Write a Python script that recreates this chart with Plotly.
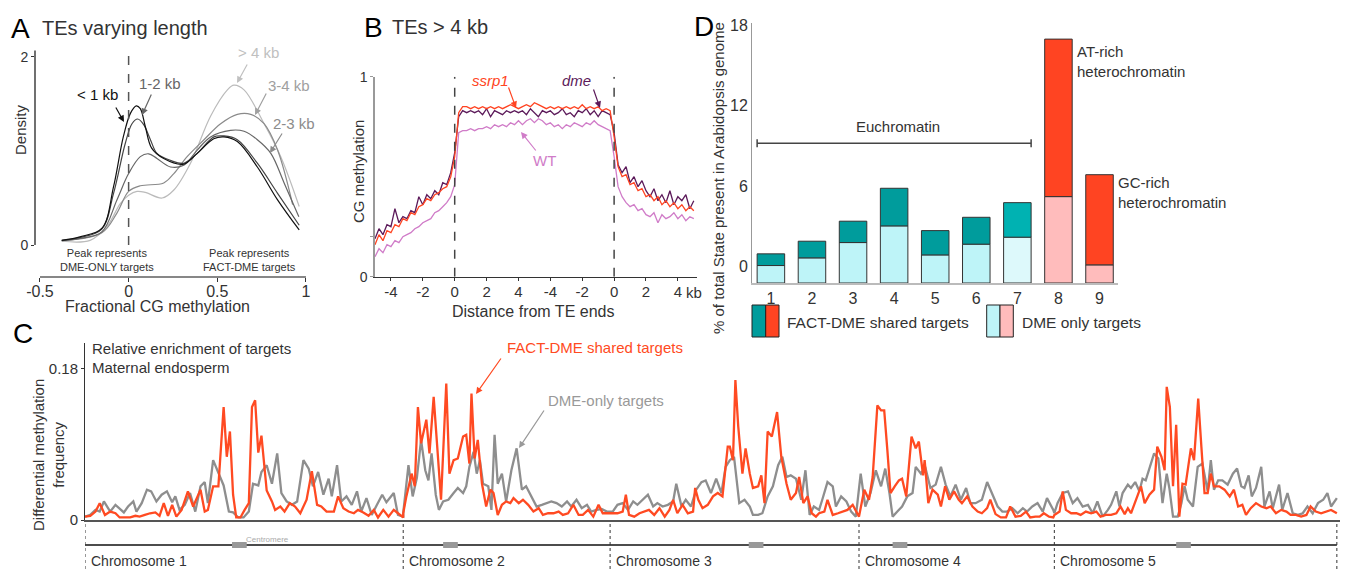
import numpy as np
import plotly.graph_objects as go

W, H = 1345, 570
def P(x): return x / W
def Q(y): return 1 - y / H

FONT = "Liberation Sans, Arial, Helvetica, sans-serif"
TXT = "#333333"

# ---------------- Panel A: density of fractional CG methylation ----------------
a_lt1_x = [-0.377, -0.27, -0.15, -0.085, -0.03, 0.01, 0.043, 0.066, 0.094, 0.13, 0.198, 0.31, 0.387, 0.48, 0.538, 0.613, 0.726, 0.84, 0.962]
a_lt1_y = [0.05, 0.09, 0.18, 0.62, 1.15, 1.40, 1.48, 1.45, 1.26, 1.03, 0.92, 0.86, 0.975, 1.13, 1.15, 1.10, 0.83, 0.48, 0.16]
a_1to2_x = [-0.377, -0.274, -0.151, -0.085, -0.019, 0.019, 0.051, 0.085, 0.123, 0.160, 0.236, 0.311, 0.387, 0.481, 0.538, 0.613, 0.726, 0.84, 0.962]
a_1to2_y = [0.05, 0.08, 0.17, 0.55, 1.08, 1.29, 1.34, 1.28, 1.12, 0.975, 0.90, 0.87, 0.975, 1.15, 1.16, 1.12, 0.87, 0.55, 0.21]
a_2to3_x = [-0.377, -0.274, -0.151, -0.066, 0.0, 0.066, 0.113, 0.160, 0.236, 0.311, 0.387, 0.462, 0.575, 0.651, 0.726, 0.802, 0.877, 0.96]
a_2to3_y = [0.046, 0.07, 0.14, 0.48, 0.76, 0.94, 0.97, 0.92, 0.83, 0.85, 1.01, 1.15, 1.22, 1.21, 1.12, 0.975, 0.66, 0.30]
a_3to4_x = [-0.377, -0.151, -0.066, 0.0, 0.066, 0.198, 0.255, 0.330, 0.425, 0.519, 0.613, 0.689, 0.764, 0.840, 0.925]
a_3to4_y = [0.046, 0.13, 0.34, 0.57, 0.63, 0.66, 0.76, 0.94, 1.12, 1.29, 1.39, 1.39, 1.29, 1.01, 0.43]
a_gt4_x = [-0.377, -0.217, -0.123, -0.047, 0.0, 0.047, 0.094, 0.189, 0.255, 0.349, 0.462, 0.557, 0.594, 0.651, 0.764, 0.858, 0.962]
a_gt4_y = [0.04, 0.05, 0.195, 0.44, 0.53, 0.57, 0.56, 0.50, 0.585, 0.87, 1.37, 1.65, 1.70, 1.65, 1.29, 0.94, 0.41]
a_ticks = [-0.5, 0, 0.5, 1]
a_ticktext = ["-0.5", "0", "0.5", "1"]

# ---------------- Panel B: CG methylation around TEs > 4 kb ----------------
b_step = 0.25          # sampling interval (kb-equivalent units), first sample at -5
b_dme = [0.19, 0.24, 0.21, 0.26, 0.25, 0.34, 0.27, 0.30, 0.29, 0.33, 0.32, 0.40, 0.36, 0.41, 0.39, 0.43, 0.41, 0.47, 0.46, 0.52,
         0.62, 0.80, 0.83, 0.82, 0.83, 0.82, 0.83, 0.81, 0.84, 0.80, 0.83, 0.82, 0.81, 0.83, 0.82, 0.83, 0.82, 0.83, 0.81, 0.84,
         0.82, 0.80, 0.83, 0.82, 0.83, 0.81, 0.82, 0.84, 0.81, 0.82, 0.80, 0.83, 0.82, 0.84, 0.81, 0.83, 0.80, 0.83, 0.82, 0.81,
         0.72, 0.56, 0.52, 0.55, 0.47, 0.50, 0.45, 0.48, 0.43, 0.40, 0.44, 0.38, 0.41, 0.37, 0.43, 0.36, 0.40, 0.38, 0.41, 0.34, 0.38]
b_ssrp1 = [0.16, 0.21, 0.18, 0.23, 0.22, 0.26, 0.25, 0.29, 0.28, 0.32, 0.31, 0.35, 0.36, 0.39, 0.38, 0.41, 0.42, 0.44, 0.45, 0.50,
           0.60, 0.82, 0.85, 0.85, 0.84, 0.85, 0.84, 0.85, 0.84, 0.85, 0.84, 0.85, 0.84, 0.85, 0.86, 0.85, 0.84, 0.85, 0.86, 0.85,
           0.87, 0.86, 0.85, 0.84, 0.85, 0.84, 0.85, 0.84, 0.85, 0.84, 0.85, 0.84, 0.86, 0.84, 0.85, 0.84, 0.85, 0.83, 0.84, 0.83,
           0.70, 0.55, 0.50, 0.51, 0.46, 0.47, 0.43, 0.44, 0.40, 0.41, 0.38, 0.40, 0.36, 0.38, 0.35, 0.37, 0.34, 0.36, 0.33, 0.35, 0.33]
b_wt = [0.10, 0.14, 0.12, 0.16, 0.15, 0.18, 0.17, 0.20, 0.21, 0.22, 0.24, 0.25, 0.27, 0.28, 0.29, 0.32, 0.33, 0.35, 0.37, 0.40,
        0.46, 0.72, 0.73, 0.73, 0.74, 0.73, 0.74, 0.74, 0.75, 0.74, 0.76, 0.75, 0.76, 0.75, 0.77, 0.76, 0.78, 0.76, 0.78, 0.79,
        0.77, 0.79, 0.78, 0.76, 0.77, 0.75, 0.76, 0.74, 0.76, 0.75, 0.77, 0.76, 0.75, 0.77, 0.76, 0.78, 0.76, 0.75, 0.74, 0.73,
        0.60, 0.45, 0.40, 0.37, 0.35, 0.36, 0.33, 0.34, 0.31, 0.30, 0.32, 0.27, 0.31, 0.29, 0.30, 0.32, 0.29, 0.31, 0.28, 0.30, 0.29]
b_tickvals = [-4, -2, 0, 2, 4, 6, 8, 10, 12, 14]
b_ticktext = ["-4", "-2", "0", "2", "4", "-4", "-2", "0", "2", "4"]
b_te_ends = [0, 10]

# ---------------- Panel C: differential methylation along chromosomes ----------------
chr_names = ["Chromosome 1", "Chromosome 2", "Chromosome 3", "Chromosome 4", "Chromosome 5"]
chr_len_mb = [30.3, 19.7, 23.7, 18.6, 26.9]
centromere_mb = [14.7, 4.5, 13.9, 3.9, 12.3]
# (position in Mb, frequency in %) pairs
chr1_dme = [(0.0, 0.4), (0.5, 0.6), (1.0, 1.2), (1.4, 1.0), (1.8, 2.2), (2.4, 1.0), (2.9, 1.8), (3.3, 1.4), (3.7, 0.9), (4.1, 1.6),
            (4.6, 2.2), (4.9, 1.0), (5.4, 2.0), (5.9, 3.6), (6.3, 3.4), (6.8, 2.2), (7.3, 3.0), (7.8, 3.4), (8.3, 2.1), (8.6, 2.8),
            (9.0, 1.2), (9.5, 1.8), (10.0, 3.2), (10.5, 1.0), (11.0, 4.0), (11.4, 4.5), (11.7, 2.0), (12.2, 7.1), (12.7, 5.5), (13.2, 4.1),
            (13.7, 1.0), (14.1, 0.9), (14.6, 0.3), (15.1, 0.3), (15.6, 1.0), (16.0, 4.3), (16.5, 4.1), (16.8, 5.7), (17.3, 6.5), (17.8, 4.3),
            (18.3, 7.9), (18.7, 3.2), (19.2, 2.2), (19.7, 1.8), (20.2, 2.2), (20.8, 7.1), (21.3, 6.1), (21.7, 4.0), (22.2, 5.7), (22.7, 3.0),
            (23.2, 4.9), (23.5, 2.8), (24.0, 6.5), (24.4, 2.2), (24.9, 2.8), (25.4, 1.8), (25.9, 3.4), (26.3, 1.0), (26.8, 2.6), (27.3, 0.6),
            (27.8, 1.8), (28.3, 3.0), (28.7, 2.1), (29.4, 3.2), (29.8, 0.6), (30.3, 0.4)]
chr1_fact = [(0.0, 0.4), (0.5, 0.5), (1.0, 1.0), (1.4, 2.0), (1.9, 0.6), (2.4, 1.0), (2.9, 0.8), (3.3, 0.3), (3.8, 0.3), (4.3, 0.3),
             (4.8, 0.5), (5.2, 0.4), (5.7, 0.6), (6.2, 0.8), (6.7, 0.9), (7.1, 0.5), (7.5, 2.0), (7.9, 0.5), (8.3, 1.8), (8.7, 0.4),
             (9.2, 1.2), (9.8, 3.4), (10.3, 1.6), (11.0, 3.6), (11.4, 1.0), (11.7, 1.2), (12.2, 4.0), (12.7, 4.0), (13.2, 13.4), (13.5, 7.5),
             (13.8, 10.5), (14.1, 3.0), (14.4, 0.3), (14.8, 0.3), (15.2, 1.2), (15.6, 2.0), (15.9, 13.4), (16.2, 14.2), (16.5, 8.0), (16.8, 10.0),
             (17.3, 3.5), (17.8, 2.2), (18.1, 1.2), (18.6, 1.6), (19.0, 1.0), (19.5, 2.0), (20.0, 1.6), (20.5, 0.8), (21.1, 2.4), (21.6, 5.8),
             (22.1, 1.8), (22.5, 1.6), (23.0, 1.0), (23.7, 1.0), (24.1, 2.8), (24.6, 1.4), (25.1, 1.0), (25.6, 0.8), (26.0, 1.2), (26.5, 0.9),
             (27.0, 0.5), (27.5, 1.2), (27.9, 0.3), (28.4, 1.2), (28.9, 0.4), (29.4, 1.2), (29.8, 0.8), (30.3, 0.3)]
chr2_dme = [(0.0, 0.8), (0.5, 6.5), (0.9, 2.8), (1.3, 5.0), (1.7, 9.5), (2.1, 5.9), (2.4, 4.7), (2.7, 7.9), (3.1, 3.0), (3.4, 1.2),
            (3.8, 2.2), (4.3, 2.4), (4.8, 3.2), (5.2, 3.8), (5.7, 3.2), (6.0, 4.0), (6.3, 6.3), (6.7, 8.1), (7.0, 5.5), (7.3, 7.1),
            (7.6, 4.3), (8.1, 4.0), (8.4, 1.2), (8.7, 10.1), (9.0, 4.3), (9.4, 5.5), (9.8, 2.2), (10.3, 5.9), (10.8, 8.5), (11.3, 3.6),
            (11.7, 4.0), (12.2, 2.8), (12.7, 1.6), (13.2, 1.8), (13.7, 2.0), (14.1, 2.2), (14.6, 2.0), (15.1, 1.6), (15.6, 2.2), (16.0, 1.6),
            (16.5, 2.4), (17.0, 1.4), (17.5, 1.8), (17.9, 1.0), (18.4, 1.2), (18.9, 1.3), (19.4, 1.0), (19.7, 1.0)]
chr2_fact = [(0.0, 0.8), (0.3, 2.8), (0.8, 5.5), (1.1, 4.0), (1.4, 13.4), (1.7, 9.1), (2.2, 11.9), (2.5, 7.9), (2.9, 14.6), (3.3, 7.1),
             (3.6, 2.4), (4.1, 16.2), (4.4, 5.5), (4.8, 7.1), (5.2, 7.3), (5.7, 9.9), (6.0, 10.1), (6.3, 6.7), (6.5, 15.0), (6.8, 7.3),
             (7.1, 9.5), (7.5, 4.3), (7.9, 1.6), (8.3, 3.6), (8.6, 3.2), (9.0, 0.6), (9.4, 1.8), (9.8, 2.2), (10.2, 2.0), (10.5, 2.6),
             (11.0, 2.0), (11.4, 2.4), (11.9, 1.8), (12.4, 1.0), (12.9, 1.4), (13.3, 0.6), (13.8, 0.8), (14.3, 0.8), (14.8, 1.0), (15.2, 0.6),
             (15.7, 0.8), (16.2, 1.8), (16.7, 0.6), (17.1, 0.6), (17.6, 1.2), (18.1, 0.4), (18.6, 1.8), (19.0, 0.8)]
chr3_dme = [(0.25, 1.0), (0.7, 1.8), (1.2, 2.0), (1.7, 1.2), (2.2, 2.2), (2.6, 1.8), (3.1, 2.4), (3.6, 3.0), (4.1, 1.6), (4.5, 2.0),
            (5.0, 1.6), (5.5, 1.8), (6.0, 2.2), (6.3, 4.3), (6.8, 1.6), (7.2, 2.4), (7.7, 1.6), (8.2, 3.6), (8.7, 4.5), (9.1, 4.7),
            (9.6, 3.2), (10.1, 4.9), (10.6, 3.2), (11.0, 6.3), (11.4, 7.1), (11.8, 7.5), (12.3, 2.0), (12.8, 2.4), (13.3, 1.6), (13.6, 0.6),
            (14.1, 0.6), (14.5, 0.8), (15.0, 2.8), (15.5, 4.0), (16.0, 6.5), (16.4, 7.5), (16.8, 5.1), (17.2, 5.3), (17.7, 4.9), (18.2, 2.4),
            (18.6, 5.9), (19.0, 0.6), (19.4, 1.6), (19.9, 1.2), (20.2, 2.4), (20.7, 4.5), (21.2, 4.0), (21.5, 1.6), (22.0, 2.8), (22.5, 2.2),
            (22.95, 1.0), (23.4, 0.4)]
chr3_fact = [(0.25, 0.8), (0.7, 0.8), (1.2, 1.0), (1.5, 3.0), (1.8, 0.6), (2.3, 0.4), (2.8, 0.8), (3.3, 1.0), (3.7, 1.2), (4.2, 0.6),
             (4.7, 1.4), (5.2, 0.4), (5.65, 1.2), (6.0, 2.4), (6.4, 0.8), (6.9, 1.8), (7.4, 0.8), (7.9, 1.0), (8.1, 3.8), (8.4, 2.4),
             (8.8, 1.4), (9.3, 1.8), (9.8, 2.8), (10.25, 3.2), (10.7, 2.8), (11.2, 8.7), (11.4, 8.7), (11.7, 7.1), (11.93, 16.6), (12.2, 11.1),
             (12.6, 5.5), (12.9, 8.5), (13.3, 5.5), (13.6, 3.8), (14.1, 4.0), (14.4, 5.3), (14.7, 2.0), (15.0, 10.5), (15.4, 9.9), (15.9, 12.8),
             (16.3, 7.5), (16.8, 4.3), (17.2, 2.4), (17.7, 3.2), (18.0, 5.1), (18.4, 2.0), (18.8, 2.8), (19.2, 0.8), (19.6, 0.4), (19.9, 0.8),
             (20.4, 1.0), (20.7, 2.4), (21.2, 0.6), (21.7, 0.8), (22.2, 1.0), (22.6, 1.2), (23.1, 1.8), (23.4, 1.0), (23.67, 0.4)]
chr4_dme = [(0.16, 5.5), (0.6, 1.6), (1.1, 3.2), (1.6, 5.9), (2.1, 4.0), (2.5, 6.1), (2.9, 3.2), (3.2, 0.4), (3.65, 1.0), (4.1, 1.6),
            (4.6, 2.8), (5.1, 3.2), (5.4, 6.3), (5.9, 5.5), (6.3, 6.3), (6.8, 3.8), (7.3, 4.2), (7.8, 6.3), (8.25, 4.2), (8.7, 2.8),
            (9.2, 4.2), (9.7, 2.4), (10.2, 3.8), (10.6, 2.0), (11.1, 2.0), (11.7, 2.4), (12.2, 4.5), (12.7, 3.0), (13.2, 1.6), (13.65, 1.0),
            (14.1, 1.0), (14.6, 1.4), (15.1, 0.8), (15.6, 1.4), (16.0, 1.0), (16.5, 1.6), (17.0, 2.0), (17.5, 1.0), (17.9, 2.6), (18.5, 1.2)]
chr4_fact = [(0.0, 0.4), (0.5, 3.6), (0.95, 2.4), (1.3, 5.1), (1.75, 13.6), (2.1, 13.0), (2.4, 13.0), (2.7, 8.3), (3.0, 3.2), (3.4, 4.0),
             (3.8, 4.7), (4.1, 4.9), (4.5, 2.8), (5.0, 9.9), (5.4, 8.5), (5.7, 9.3), (6.1, 5.3), (6.25, 7.1), (6.6, 2.0), (7.0, 3.6),
             (7.5, 3.0), (7.8, 1.6), (8.2, 4.0), (8.6, 2.4), (9.05, 3.4), (9.5, 2.4), (9.8, 2.0), (10.3, 2.8), (10.8, 1.6), (11.3, 1.0),
             (11.7, 0.8), (12.2, 1.4), (12.5, 2.4), (13.0, 0.7), (13.5, 0.3), (14.0, 0.3), (14.4, 1.6), (14.9, 0.4), (15.4, 0.5), (15.9, 1.0),
             (16.3, 0.3), (16.8, 0.4), (17.2, 0.4), (17.6, 0.8), (18.1, 0.4), (18.5, 0.3)]
chr5_dme = [(0.0, 0.8), (0.3, 2.0), (0.8, 3.2), (1.3, 3.4), (1.75, 2.0), (2.2, 2.6), (2.7, 1.6), (3.2, 1.8), (3.65, 0.8), (4.1, 2.2),
            (4.6, 0.4), (5.1, 1.2), (5.4, 1.8), (5.9, 3.4), (6.2, 1.6), (6.5, 3.2), (7.0, 4.2), (7.3, 3.8), (7.7, 4.5), (8.1, 3.4),
            (8.4, 4.9), (8.7, 4.7), (9.1, 6.3), (9.5, 7.9), (9.9, 7.3), (10.3, 2.0), (10.7, 5.5), (10.95, 3.8), (11.3, 0.4), (11.75, 0.4),
            (12.1, 2.0), (12.4, 4.0), (12.7, 2.4), (13.2, 1.6), (13.65, 6.3), (14.1, 6.7), (14.6, 3.4), (14.9, 7.1), (15.2, 3.6), (15.6, 4.7),
            (16.0, 4.7), (16.5, 4.2), (17.0, 5.5), (17.4, 6.1), (17.8, 4.0), (18.1, 3.8), (18.5, 5.3), (18.8, 2.8), (19.2, 3.8), (19.7, 6.3),
            (20.0, 1.6), (20.5, 3.4), (20.8, 1.4), (21.4, 4.2), (21.7, 1.2), (22.2, 3.2), (22.7, 0.8), (23.2, 0.6), (23.65, 0.8), (24.1, 1.6),
            (24.6, 0.8), (25.1, 2.0), (25.6, 2.4), (26.0, 3.2), (26.35, 1.6), (26.9, 2.6)]
chr5_fact = [(0.0, 0.6), (0.5, 1.0), (0.8, 3.4), (1.1, 1.2), (1.6, 0.8), (2.1, 0.8), (2.5, 0.6), (3.0, 1.0), (3.5, 0.8), (4.0, 1.0),
             (4.4, 0.4), (4.9, 0.6), (5.4, 0.6), (5.9, 0.8), (6.3, 1.6), (6.7, 0.7), (7.0, 1.4), (7.3, 0.8), (7.8, 2.4), (8.25, 4.0),
             (8.6, 2.0), (9.05, 3.0), (9.5, 3.6), (9.8, 8.7), (10.2, 7.5), (10.5, 5.9), (10.7, 15.8), (11.0, 13.4), (11.3, 4.0), (11.6, 11.3),
             (11.9, 0.4), (12.2, 4.3), (12.5, 4.2), (13.0, 8.5), (13.3, 7.1), (13.7, 14.4), (14.0, 8.7), (14.3, 3.2), (14.6, 3.2), (14.9, 5.5),
             (15.2, 4.0), (15.7, 4.0), (16.2, 3.6), (16.7, 2.8), (17.1, 3.6), (17.5, 1.6), (17.9, 1.8), (18.25, 0.6), (18.7, 1.4), (19.2, 2.0),
             (19.7, 1.6), (20.2, 1.4), (20.6, 1.6), (21.1, 0.8), (21.6, 1.2), (22.1, 1.0), (22.5, 0.6), (23.0, 0.6), (23.5, 0.4), (24.0, 0.6),
             (24.4, 1.6), (24.9, 1.0), (25.4, 0.8), (25.9, 1.0), (26.35, 1.2), (26.9, 0.8)]
c_dme_by_chr = [chr1_dme, chr2_dme, chr3_dme, chr4_dme, chr5_dme]
c_fact_by_chr = [chr1_fact, chr2_fact, chr3_fact, chr4_fact, chr5_fact]
c_ticks = [0, 0.18]

# ---------------- Panel D: chromatin states ----------------
d_states = [1, 2, 3, 4, 5, 6, 7, 8, 9]
d_dme_only_top = [0.10, 0.67, 1.81, 3.05, 0.89, 1.69, 2.21, 5.23, 0.15]
d_total_top = [0.97, 1.91, 3.40, 5.85, 2.70, 3.69, 4.78, 16.95, 6.86]
d_shared_colors = ["#009C9C"] * 6 + ["#00B2B2"] + ["#FF4422", "#FF4422"]
d_only_colors = ["#BEF4F8"] * 6 + ["#DDF9FB"] + ["#FFBCBC", "#FFBCBC"]
d_floor = -1.2
d_yticks = [0, 6, 12, 18]

fig = go.Figure()

# ---- A traces
a_curves = [(a_gt4_x, a_gt4_y, "#BBBBBB"), (a_3to4_x, a_3to4_y, "#8A8A8A"),
            (a_2to3_x, a_2to3_y, "#666666"), (a_1to2_x, a_1to2_y, "#444444"),
            (a_lt1_x, a_lt1_y, "#111111")]
for xs, ys, col in a_curves:
    fig.add_trace(go.Scatter(x=xs, y=ys, mode="lines", xaxis="x", yaxis="y",
                             line=dict(color=col, width=1.2, shape="spline", smoothing=1.0),
                             showlegend=False, hoverinfo="skip"))

# ---- B traces
b_x = -5 + b_step * np.arange(len(b_dme))
for ys, col in [(b_wt, "#D07CC8"), (b_dme, "#5C1A5A"), (b_ssrp1, "#FF4422")]:
    fig.add_trace(go.Scatter(x=b_x, y=ys, mode="lines", xaxis="x2", yaxis="y2",
                             line=dict(color=col, width=1.3), showlegend=False, hoverinfo="skip"))

# ---- C traces
chr_off = np.concatenate([[0], np.cumsum(chr_len_mb)])
def concat(series):
    xs, ys = [], []
    for off, pts in zip(chr_off, series):
        for p, v in pts:
            xs.append(off + p)
            ys.append(v / 100.0)
    return xs, ys
for series, col in [(c_dme_by_chr, "#8E8E8E"), (c_fact_by_chr, "#FF4A22")]:
    xs, ys = concat(series)
    fig.add_trace(go.Scatter(x=xs, y=ys, mode="lines", xaxis="x3", yaxis="y3",
                             line=dict(color=col, width=2.3), showlegend=False, hoverinfo="skip"))

# ---- D traces
d_only_h = [t - d_floor for t in d_dme_only_top]
d_shared_h = [t - b for t, b in zip(d_total_top, d_dme_only_top)]
fig.add_trace(go.Bar(x=d_states, y=d_only_h, base=[d_floor] * len(d_states), width=0.67,
                     marker=dict(color=d_only_colors, line=dict(color="#333333", width=1)),
                     xaxis="x4", yaxis="y4", showlegend=False, hoverinfo="skip"))
fig.add_trace(go.Bar(x=d_states, y=d_shared_h, base=d_dme_only_top, width=0.67,
                     marker=dict(color=d_shared_colors, line=dict(color="#333333", width=1)),
                     xaxis="x4", yaxis="y4", showlegend=False, hoverinfo="skip"))

# ---------------- axes ----------------
ax_common = dict(showgrid=False, zeroline=False, automargin=False)
layout = dict(
    width=W, height=H, autosize=False, margin=dict(l=0, r=0, t=0, b=0, pad=0, autoexpand=False),
    paper_bgcolor="white", plot_bgcolor="white", barmode="overlay", showlegend=False,
    font=dict(family=FONT, color=TXT, size=14),
    xaxis=dict(domain=[P(35), P(307)], range=[-0.528, 1.006], anchor="y", showline=False,
               tickvals=a_ticks, ticktext=a_ticktext, ticks="outside", ticklen=4, tickcolor="#333",
               ticklabelstandoff=-4, tickfont=dict(size=16, color=TXT), **ax_common),
    yaxis=dict(domain=[Q(277), Q(50)], range=[-0.34, 2.074], anchor="x", showline=False,
               tickvals=[0, 2], ticks="outside", ticklen=3, tickcolor="#333",
               tickfont=dict(size=14, color=TXT), **ax_common),
    xaxis2=dict(domain=[P(375), P(697)], range=[-5, 15.2], anchor="y2", showline=True, linecolor="#333",
                linewidth=1, tickvals=b_tickvals, ticktext=b_ticktext, ticks="outside", ticklen=3,
                tickcolor="#333", ticklabelstandoff=-2, tickfont=dict(size=15, color=TXT), **ax_common),
    yaxis2=dict(domain=[Q(276.7), Q(76.7)], range=[0, 1], anchor="x2", showline=True, linecolor="#999",
                linewidth=1.5, tickvals=[0, 0.2, 1], ticktext=["0", "", "1"], ticks="outside", ticklen=3,
                tickcolor="#999", tickfont=dict(size=14, color=TXT), **ax_common),
    xaxis3=dict(domain=[P(85), P(1340)], range=[0, chr_off[-1] + 0.3], anchor="y3", showline=True,
                linecolor="#555", linewidth=1.5, showticklabels=False, ticks="", **ax_common),
    yaxis3=dict(domain=[Q(520), Q(343)], range=[0, 0.21], anchor="x3", showline=True, linecolor="#333",
                linewidth=1, tickvals=c_ticks, ticktext=["0", "0.18"], ticks="outside", ticklen=3,
                tickcolor="#333", tickfont=dict(size=15, color=TXT), **ax_common),
    xaxis4=dict(domain=[P(752), P(1118)], range=[0.54, 9.45], anchor="y4", showline=True, linecolor="#BBBBBB",
                linewidth=1.5, tickvals=d_states, ticks="", tickfont=dict(size=16, color=TXT), **ax_common),
    yaxis4=dict(domain=[Q(283), Q(23)], range=[d_floor, 18.15], anchor="x4", showline=True, linecolor="#999",
                linewidth=1, tickvals=d_yticks, ticks="", tickfont=dict(size=16, color=TXT), **ax_common),
)
fig.update_layout(**layout)

shapes = []
ann = []
def text(x, y, s, size=14, color=TXT, xanchor="left", angle=0, align="left"):
    ann.append(dict(x=P(x), y=Q(y), xref="paper", yref="paper", text=s, showarrow=False,
                    xanchor=xanchor, yanchor="middle", textangle=angle, align=align,
                    font=dict(size=size, color=color, family=FONT)))
def arrow(tail, head, color, width=1.2):
    ann.append(dict(x=P(head[0]), y=Q(head[1]), xref="paper", yref="paper", text="",
                    showarrow=True, arrowhead=2, arrowsize=1.1, arrowwidth=width, arrowcolor=color,
                    ax=tail[0] - head[0], ay=tail[1] - head[1], axref="pixel", ayref="pixel"))

# ---- A decorations
shapes.append(dict(type="line", xref="x domain", yref="y", x0=0, x1=0, y0=0, y1=2.07, line=dict(color="#111", width=1.2)))
shapes.append(dict(type="line", xref="x", yref="y domain", x0=-0.5, x1=1.0, y0=0, y1=0, line=dict(color="#111", width=1.2)))
shapes.append(dict(type="line", xref="x", yref="y", x0=0, x1=0, y0=0, y1=2.07, line=dict(color="#555", width=1.5, dash="dash")))
text(9, 28, "A", 28, "#000")
text(40, 28, "TEs varying length", 20)
text(20, 130, "Density", 15, angle=-90, xanchor="center")
text(157, 306, "Fractional CG methylation", 16, xanchor="center")
text(107, 260, "Peak represents<br>DME-ONLY targets", 11, xanchor="center", align="center")
text(250, 260, "Peak represents<br>FACT-DME targets", 11, xanchor="center", align="center")
for lab, pos, tail, head, col in [("< 1 kb", (97, 95), (115, 106), (124, 122), "#111111"),
                                  ("1-2 kb", (160, 83), (152, 93), (142, 115), "#666666"),
                                  ("> 4 kb", (258, 53), (248, 63), (237, 83), "#C0C0C0"),
                                  ("3-4 kb", (289, 85), (267, 92), (255, 115), "#A0A0A0"),
                                  ("2-3 kb", (294, 123), (283, 132), (270, 153), "#8C8C8C")]:
    text(pos[0], pos[1], lab, 15, col, xanchor="center")
    arrow(tail, head, col)

# ---- B decorations
for xe in b_te_ends:
    shapes.append(dict(type="line", xref="x2", yref="y2", x0=xe, x1=xe, y0=0, y1=1, line=dict(color="#444", width=1.5, dash="dash")))
text(362, 27, "B", 28, "#000")
text(390, 27, "TEs > 4 kb", 20)
text(358, 172, "CG methylation", 15, angle=-90, xanchor="center")
text(533, 311, "Distance from TE ends", 16, xanchor="center")
text(684, 292, "kb", 15)
text(490, 80, "<i>ssrp1</i>", 15, "#FF4422", xanchor="center")
arrow((508, 86), (516, 108), "#FF4422")
text(576, 80, "<i>dme</i>", 15, "#5C1A5A", xanchor="center")
arrow((593, 88), (600, 108), "#5C1A5A")
text(544, 160, "WT", 15, "#D07CC8", xanchor="center")
arrow((537, 152), (521, 132), "#D07CC8")

# ---- C decorations
shapes.append(dict(type="line", xref="x3", yref="paper", x0=0, x1=chr_off[-1], y0=Q(545), y1=Q(545), line=dict(color="#111", width=1.5)))
for off in chr_off:
    shapes.append(dict(type="line", xref="x3", yref="paper", x0=off, x1=off, y0=Q(524), y1=Q(570), line=dict(color="#333", width=1, dash="dot")))
for off, cen in zip(chr_off[:-1], centromere_mb):
    shapes.append(dict(type="rect", xref="x3", yref="paper", x0=off + cen - 0.7, x1=off + cen + 0.7, y0=Q(548), y1=Q(542),
                       fillcolor="#999", line=dict(width=0)))
for off, name in zip(chr_off[:-1], chr_names):
    ann.append(dict(x=off, y=Q(561), xref="x3", yref="paper", text=name, showarrow=False, xanchor="left", yanchor="middle",
                    xshift=4, font=dict(size=14, color=TXT, family=FONT)))
ann.append(dict(x=chr_off[0] + centromere_mb[0] + 0.4, y=Q(539), xref="x3", yref="paper", text="Centromere", showarrow=False,
                xanchor="left", yanchor="middle", font=dict(size=8, color="#AAAAAA", family=FONT)))
text(11, 333, "C", 28, "#000")
text(90, 348, "Relative enrichment of targets", 15)
text(90, 367, "Maternal endosperm", 15)
text(48, 455, "Differential methylation<br>frequency", 15, angle=-90, xanchor="center", align="center")
text(595, 347, "FACT-DME shared targets", 15, "#FF4A22", xanchor="center")
arrow((502, 357), (476, 394), "#FF4A22")
text(606, 400, "DME-only targets", 15, "#999999", xanchor="center")
arrow((545, 409), (519, 448), "#999999")

# ---- D decorations
shapes.append(dict(type="line", xref="x4", yref="y4", x0=0.665, x1=7.335, y0=9.2, y1=9.2, line=dict(color="#444", width=1.5)))
for xe in [0.665, 7.335]:
    shapes.append(dict(type="line", xref="x4", yref="y4", x0=xe, x1=xe, y0=8.9, y1=9.5, line=dict(color="#444", width=1.5)))
text(692, 26, "D", 28, "#000")
text(718, 178, "% of total State present in Arabidopsis genome", 15, angle=-90, xanchor="center")
text(898, 126, "Euchromatin", 15, xanchor="center")
text(1075, 61, "AT-rich<br>heterochromatin", 15)
text(1116, 193, "GC-rich<br>heterochromatin", 15)
for (x0, x1, col) in [(752, 765.7, "#009C9C"), (765.7, 779, "#FF4422"), (986.7, 1000, "#BEF4F8"), (1000, 1013.3, "#FFBCBC")]:
    shapes.append(dict(type="rect", xref="paper", yref="paper", x0=P(x0), x1=P(x1), y0=Q(337), y1=Q(305),
                       fillcolor=col, line=dict(color="#222", width=1)))
text(785, 322, "FACT-DME shared targets", 15.5)
text(1020, 322, "DME only targets", 15.5)

fig.update_layout(shapes=shapes, annotations=ann)
fig.write_html("out.html", config={"responsive": False, "displayModeBar": False},
               post_script="document.body.style.margin='0';document.body.style.padding='0';")
